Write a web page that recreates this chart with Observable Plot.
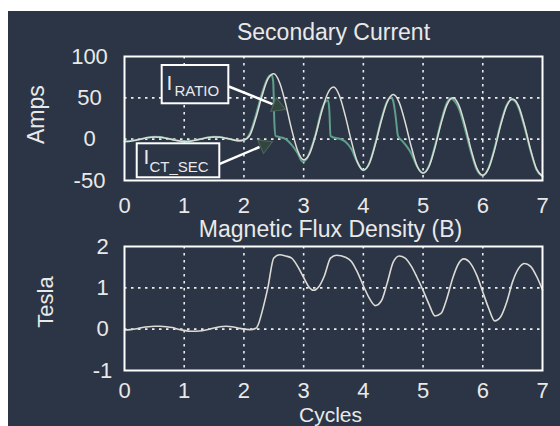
<!DOCTYPE html>
<html><head><meta charset="utf-8">
<script src="https://cdn.jsdelivr.net/npm/d3@7"></script>
<script src="https://cdn.jsdelivr.net/npm/@observablehq/plot@0.6"></script>
<style>
html,body{margin:0;padding:0;background:#ffffff;}
#bg{position:absolute;left:8px;top:11px;width:552px;height:415px;background:#2c3545;overflow:hidden;}
#p1{position:absolute;left:0;top:0;}
#p2{position:absolute;left:0;top:205px;}
</style></head><body>
<div id="bg"><div id="p1"></div><div id="p2"></div></div>
<script>
// ---- data ----
const titleTop = "Secondary Current";
const titleBottom = "Magnetic Flux Density (B)";
const xLabel = "Cycles";
const yLabelTop = "Amps";
const yLabelBottom = "Tesla";
const xTicks = [0, 1, 2, 3, 4, 5, 6, 7];
const ampTicks = [-50, 0, 50, 100];
const teslaTicks = [-1, 0, 1, 2];

// I_RATIO (ideal ratio current)
const tRatio = [0,0.1,0.2,0.3,0.4,0.5,0.6,0.7,0.8,0.9,1,1.1,1.2,1.3,1.4,1.5,1.6,1.7,1.8,1.9,
  2,2.1,2.2,2.3,2.4,2.5,2.6,2.7,2.8,2.9,3,3.1,3.2,3.3,3.4,3.5,3.6,3.7,3.8,3.9,
  4,4.1,4.2,4.3,4.4,4.5,4.6,4.7,4.8,4.9,5,5.1,5.2,5.3,5.4,5.5,5.6,5.7,5.8,5.9,
  6,6.1,6.2,6.3,6.4,6.5,6.6,6.7,6.8,6.9,7];
const iRatio = [-2.7,-2.4,-1.1,0.5,2.0,2.7,2.4,1.1,-0.5,-2.0,-2.7,-2.4,-1.1,0.5,2.0,2.7,2.4,1.1,-0.5,-2.0,
  -1.0,5,25.5,51.5,72.5,79,68,42.5,11.5,-14,-25,-17.5,4.5,32.5,55,63,52.5,27.5,-2.5,-27.5,
  -37.5,-29.5,-6.5,22,45,54,44.5,20.5,-8.5,-32.5,-41,-33,-10,18.5,41.5,50,41,17.5,-11.5,-35,
  -43.5,-35,-12,17,40,48.5,40,16.5,-12.5,-36,-45];

// I_CT_SEC (CT secondary current)
const tCt = [0,0.1,0.2,0.3,0.4,0.5,0.6,0.7,0.8,0.9,1,1.1,1.2,1.3,1.4,1.5,1.6,1.7,1.8,1.9,
  2,2.1,2.2,2.3,2.4,2.46,2.49,2.51,2.53,2.6,2.7,2.8,2.9,2.98,3.05,3.1,3.2,3.3,3.36,3.41,3.43,3.45,3.5,3.6,3.7,3.8,3.9,
  4,4.1,4.2,4.3,4.4,4.46,4.5,4.54,4.58,4.65,4.73,4.8,4.9,5,5.1,5.2,5.3,5.4,5.46,5.5,5.6,5.7,5.8,5.9,
  6,6.1,6.2,6.3,6.4,6.48,6.55,6.6,6.7,6.8,6.9,7];
const iCt = [-2.6,-2.3,-1.0,0.6,2.1,2.8,2.5,1.2,-0.4,-1.9,-2.6,-2.3,-1.0,0.6,2.1,2.8,2.5,1.2,-0.4,-1.9,
  -1.0,7,29,55,74,78,70,20,4,2.5,0,-7,-17,-27,-24,-16,6,35,45,47,35,4,2,0.5,-3,-12,-28,
  -37.5,-29,-5,24,46,51,46,28,4,-2,-9,-17,-33,-41,-32,-8,21,44,49.5,48,37,13,-15,-37,
  -44,-34,-10,19,41.5,48,45,38,14,-14,-37,-45];

// Magnetic flux density B (Tesla)
const tFlux = [0,0.1,0.2,0.3,0.4,0.5,0.6,0.7,0.8,0.9,1,1.1,1.2,1.3,1.4,1.5,1.6,1.7,1.8,1.9,2,2.1,2.2,
  2.25,2.3,2.4,2.5,2.6,2.7,2.8,2.9,3,3.1,3.17,3.25,3.35,3.45,3.55,3.7,3.8,3.9,
  4,4.1,4.2,4.3,4.4,4.5,4.6,4.7,4.8,4.9,5,5.1,5.2,5.3,5.4,5.5,5.6,5.68,5.8,5.9,
  6,6.1,6.2,6.3,6.4,6.5,6.6,6.7,6.8,6.9,7];
const flux = [-0.02,-0.01,0.01,0.04,0.06,0.07,0.07,0.06,0.04,0.0,-0.03,-0.05,-0.05,-0.04,-0.01,0.03,0.06,0.07,0.06,0.03,0.0,-0.01,0.02,
  0.15,0.4,1.0,1.72,1.8,1.77,1.72,1.52,1.25,1.0,0.94,1.02,1.3,1.72,1.79,1.74,1.64,1.38,
  1.05,0.75,0.57,0.68,1.12,1.62,1.77,1.72,1.53,1.25,0.94,0.6,0.32,0.38,0.75,1.25,1.6,1.7,1.58,1.3,
  0.9,0.5,0.2,0.3,0.65,1.15,1.47,1.59,1.52,1.28,0.95];

// annotation boxes (data units) and labels
const boxNames = ["RATIO", "CT_SEC"];
const boxX1 = [0.631, 0.213];
const boxX2 = [1.747, 1.596];
const boxY1 = [42.8, -46.7];
const boxY2 = [89.1, -5.6];
const bigIX = [0.703, 0.318];
const bigIY = [58.9, -30.0];
const subX = [0.837, 0.419];
const subY = [52.8, -39.8];
const arrowX1 = [1.747, 1.596];
const arrowY1 = [63.7, -29.8];
const arrowX2 = [2.479, 2.261];
const arrowY2 = [42.4, -9.5];
const headX = [2.562, 2.345];
const headY = [39.9, -7.1];
const headAngle = [112, 67];

// ---- build ----
const BG = "#2c3545";
const TXT = "#e9e9e9";
const FONT = "'Liberation Sans', Arial, Helvetica, sans-serif";
const ratioData = tRatio.map((t, i) => ({t, v: iRatio[i]}));
const ctData = tCt.map((t, i) => ({t, v: iCt[i]}));
const fluxData = tFlux.map((t, i) => ({t, v: flux[i]}));
const boxes = boxNames.map((n, i) => ({n, x1: boxX1[i], x2: boxX2[i], y1: boxY1[i], y2: boxY2[i],
  ix: bigIX[i], iy: bigIY[i], sx: subX[i], sy: subY[i],
  ax1: arrowX1[i], ay1: arrowY1[i], ax2: arrowX2[i], ay2: arrowY2[i],
  hx: headX[i], hy: headY[i], ha: headAngle[i]}));

const inner = (arr) => arr.slice(1, -1);
const fmt = (d) => String(d);
const gridStyle = {stroke: "#ffffff", strokeWidth: 1.6, strokeDasharray: "2.5,4.5", strokeOpacity: 0.9};
const style = {fontSize: "22px", fontFamily: FONT, color: TXT, background: "transparent", overflow: "visible"};

const p1 = Plot.plot({
  width: 552, height: 205,
  marginLeft: 116, marginRight: 18, marginTop: 45, marginBottom: 36,
  style,
  x: {domain: [0, 7]},
  y: {domain: [-50, 100]},
  marks: [
    Plot.ruleX(inner(xTicks), gridStyle),
    Plot.ruleY(inner(ampTicks), gridStyle),
    Plot.line(ctData, {x: "t", y: "v", stroke: "#5f9e8a", strokeWidth: 2, curve: "monotone-x"}),
    Plot.line(ratioData, {x: "t", y: "v", stroke: "#dedcd6", strokeWidth: 1.5, curve: "monotone-x"}),
    Plot.rect(boxes, {x1: "x1", x2: "x2", y1: "y1", y2: "y2", fill: BG, stroke: "#ffffff", strokeWidth: 2}),
    Plot.link(boxes, {x1: "ax1", y1: "ay1", x2: "ax2", y2: "ay2", stroke: "#ffffff", strokeWidth: 2.5}),
    Plot.dot(boxes, {x: "hx", y: "hy", symbol: "triangle", r: 5.5, rotate: "ha", fill: "#33463e", stroke: "#4d6659", strokeWidth: 1}),
    Plot.text(boxes, {x: "ix", y: "iy", text: () => "I", textAnchor: "start", lineAnchor: "bottom", fontSize: 21, fill: TXT}),
    Plot.text(boxes, {x: "sx", y: "sy", text: "n", textAnchor: "start", lineAnchor: "bottom", fontSize: 15, fill: TXT}),
    Plot.frame({stroke: "#ffffff", strokeWidth: 2}),
    Plot.axisX(xTicks, {tickSize: 0, tickPadding: 17, label: null, tickFormat: fmt}),
    Plot.axisY(ampTicks, {tickSize: 0, tickPadding: 35, textAnchor: "middle", label: null, tickFormat: fmt}),
    Plot.text([titleTop], {frameAnchor: "top", textAnchor: "middle", lineAnchor: "bottom", dy: -16.5, fontSize: 23, fill: TXT}),
    Plot.text([yLabelTop], {frameAnchor: "left", textAnchor: "middle", rotate: -90, dx: -87.5, dy: -3.8, fontSize: 23, fill: TXT})
  ]
});
document.getElementById("p1").append(p1);

const p2 = Plot.plot({
  width: 552, height: 210,
  marginLeft: 116, marginRight: 18, marginTop: 30, marginBottom: 56,
  style,
  x: {domain: [0, 7]},
  y: {domain: [-1, 2]},
  marks: [
    Plot.ruleX(inner(xTicks), gridStyle),
    Plot.ruleY(inner(teslaTicks), gridStyle),
    Plot.line(fluxData, {x: "t", y: "v", stroke: "#dcdad4", strokeWidth: 1.6, curve: "monotone-x"}),
    Plot.frame({stroke: "#ffffff", strokeWidth: 2}),
    Plot.axisX(xTicks, {tickSize: 0, tickPadding: 12, label: null, tickFormat: fmt}),
    Plot.axisY(teslaTicks, {tickSize: 0, tickPadding: 22, textAnchor: "middle", label: null, tickFormat: fmt}),
    Plot.text([titleBottom], {frameAnchor: "top", textAnchor: "middle", lineAnchor: "bottom", dx: -3, dy: -9.5, fontSize: 23, fill: TXT}),
    Plot.text([xLabel], {frameAnchor: "bottom", textAnchor: "middle", lineAnchor: "bottom", dx: -3, dy: 51, fontSize: 21, fill: TXT}),
    Plot.text([yLabelBottom], {frameAnchor: "left", textAnchor: "middle", rotate: -90, dx: -79, dy: -6.5, fontSize: 22, fill: TXT})
  ]
});
document.getElementById("p2").append(p2);
</script></body></html>
